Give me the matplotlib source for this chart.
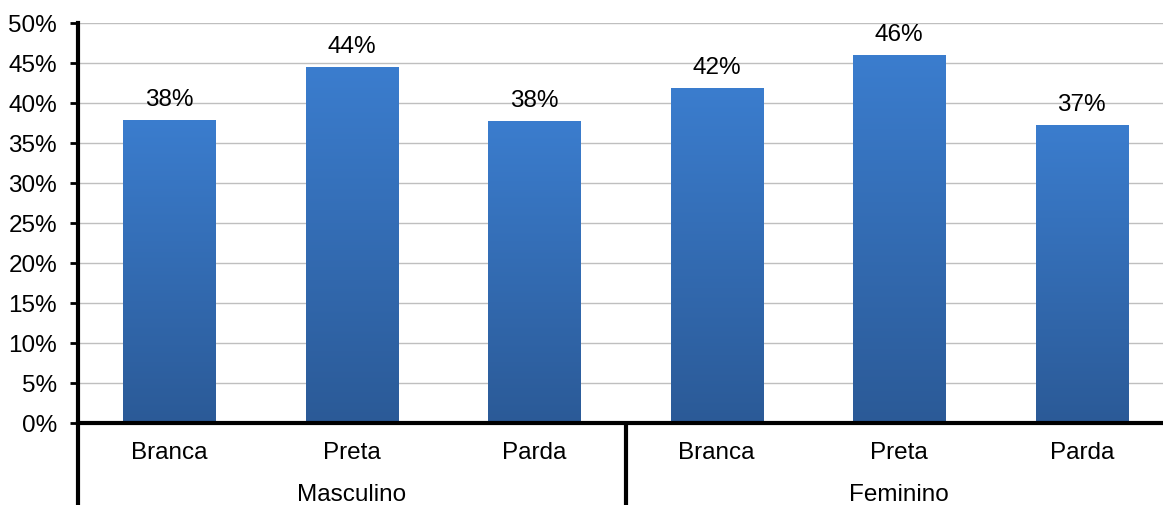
import matplotlib
matplotlib.use('Agg')
import matplotlib.pyplot as plt
import numpy as np
from matplotlib.colors import LinearSegmentedColormap
from matplotlib.ticker import PercentFormatter

plt.rcParams['font.family'] = ['Liberation Sans', 'DejaVu Sans']

# data
categories = ['Branca', 'Preta', 'Parda', 'Branca', 'Preta', 'Parda']
groups = ['Masculino', 'Feminino']
values = [0.379, 0.445, 0.378, 0.419, 0.460, 0.373]
labels = ['38%', '44%', '38%', '42%', '46%', '37%']

fs = 17.5

fig = plt.figure(figsize=(11.63, 5.06), dpi=100)
ax = fig.add_axes([78 / 1163, 82 / 506, 1095 / 1163, 400 / 506])

x = np.arange(len(values))
width = 0.505
bars = ax.bar(x, values, width=width, color='none', zorder=3)

# vertical gradient inside each bar
cmap = LinearSegmentedColormap.from_list('blu', ['#2B5A97', '#3B7DCE'])
grad = np.linspace(0, 1, 256).reshape(-1, 1)
for b in bars:
    x0, y0 = b.get_x(), b.get_y()
    w, h = b.get_width(), b.get_height()
    im = ax.imshow(grad, cmap=cmap, origin='lower', aspect='auto',
                   extent=[x0, x0 + w, y0, y0 + h], zorder=3)
    im.set_clip_path(b)

for xi, v, lab in zip(x, values, labels):
    ax.annotate(lab, (xi, v), xytext=(0, 10.5), textcoords='offset points',
                ha='center', va='baseline', fontsize=fs)

ax.set_xlim(-0.5, 5.5)
ax.set_ylim(0, 0.5)
ax.set_yticks(np.arange(0, 0.51, 0.05))
ax.yaxis.set_major_formatter(PercentFormatter(1.0, decimals=0))
ax.tick_params(axis='y', labelsize=fs, length=6, width=2, pad=9)
ax.set_xticks([])
ax.grid(axis='y', color='#BFBFBF', linewidth=1, zorder=0)
ax.set_axisbelow(True)

for s in ['top', 'right']:
    ax.spines[s].set_visible(False)
ax.spines['left'].set_linewidth(3)
ax.spines['bottom'].set_linewidth(3)
ax.spines['bottom'].set_zorder(4)

# category and group labels below the axis
tr = ax.get_xaxis_transform()
for xi, c in zip(x, categories):
    ax.text(xi, -0.072, c, transform=tr, ha='center', va='center', fontsize=fs)
for gi, g in enumerate(groups):
    ax.text(gi * 3 + 1, -0.178, g, transform=tr, ha='center', va='center', fontsize=fs)

# left axis extension and group separator
for sx in [-0.5, 2.5]:
    ax.plot([sx, sx], [0, -0.25], transform=tr, color='black', lw=3,
            clip_on=False, solid_capstyle='butt')

fig.savefig('out.png', dpi=100)
